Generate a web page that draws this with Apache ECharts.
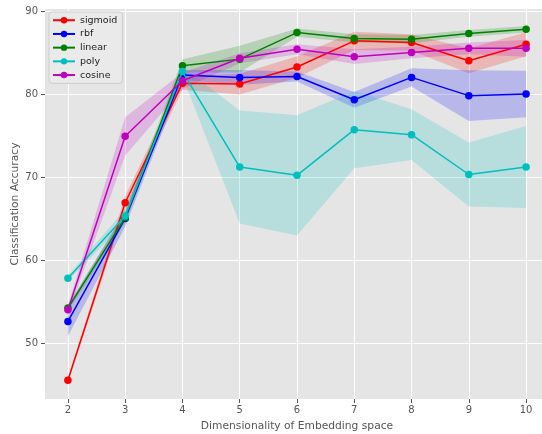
<!DOCTYPE html>
<html>
<head>
<meta charset="utf-8">
<script src="https://cdn.jsdelivr.net/npm/echarts@6/dist/echarts.min.js"></script>
<style>html,body{margin:0;padding:0;background:#fff}#c{width:542px;height:434px}</style>
</head>
<body>
<div id="c"></div>
<script>
var dims = [2, 3, 4, 5, 6, 7, 8, 9, 10];
var xTicks = [2, 3, 4, 5, 6, 7, 8, 9, 10];
var yTicks = [50, 60, 70, 80, 90];
var names = ['sigmoid', 'rbf', 'linear', 'poly', 'cosine'];
var sigmoidMean = [45.5, 66.9, 81.3, 81.2, 83.25, 86.4, 86.2, 84.0, 86.0];
var sigmoidStd  = [0.3, 0.8, 0.8, 1.25, 1.3, 1.1, 1.0, 1.5, 1.45];
var rbfMean     = [52.6, 65.0, 82.3, 82.0, 82.1, 79.3, 82.0, 79.8, 80.0];
var rbfStd      = [1.8, 1.0, 0.6, 0.9, 0.6, 0.95, 1.1, 3.05, 2.8];
var linearMean  = [54.2, 65.1, 83.4, 84.2, 87.4, 86.7, 86.6, 87.3, 87.8];
var linearStd   = [0.4, 0.6, 0.8, 1.6, 0.5, 0.5, 0.5, 0.4, 0.4];
var polyMean    = [57.8, 65.3, 82.7, 71.2, 70.2, 75.7, 75.1, 70.3, 71.2];
var polyStd     = [0.3, 0.8, 0.6, 6.8, 7.25, 4.65, 3.05, 3.85, 4.95];
var cosineMean  = [54.0, 74.9, 81.6, 84.3, 85.4, 84.5, 85.0, 85.5, 85.5];
var cosineStd   = [0.5, 2.3, 1.0, 0.6, 0.6, 0.9, 0.7, 0.7, 1.0];

var means = [sigmoidMean, rbfMean, linearMean, polyMean, cosineMean];
var stds = [sigmoidStd, rbfStd, linearStd, polyStd, cosineStd];
var colors = ['#ff0000', '#0000ff', '#008000', '#00bfbf', '#bf00bf'];
var fills = ['rgba(255,0,0,0.2)', 'rgba(0,0,255,0.2)', 'rgba(0,128,0,0.2)', 'rgba(0,191,191,0.2)', 'rgba(191,0,191,0.2)'];

var series = [];
names.forEach(function (n, k) {
  var m = means[k], s = stds[k];
  var bandData = dims.map(function (d, i) { return [d, m[i] - s[i], m[i] + s[i]]; });
  series.push({
    type: 'custom',
    name: n + ' band',
    data: bandData,
    z: 1,
    clip: true,
    silent: true,
    renderItem: function (params, api) {
      if (params.dataIndex !== 0) return;
      var pts = [];
      for (var i = 0; i < bandData.length; i++) pts.push(api.coord([bandData[i][0], bandData[i][2]]));
      for (var j = bandData.length - 1; j >= 0; j--) pts.push(api.coord([bandData[j][0], bandData[j][1]]));
      return { type: 'polygon', shape: { points: pts }, style: { fill: fills[k], stroke: null } };
    }
  });
});
names.forEach(function (n, k) {
  series.push({
    type: 'line',
    name: n,
    data: dims.map(function (d, i) { return [d, means[k][i]]; }),
    color: colors[k],
    symbol: 'circle',
    symbolSize: 7.5,
    showSymbol: true,
    lineStyle: { width: 1.5, color: colors[k] },
    itemStyle: { color: colors[k] },
    z: 3 + k,
    animation: false
  });
});

var chart = echarts.init(document.getElementById('c'));
chart.setOption({
  animation: false,
  backgroundColor: '#ffffff',
  textStyle: { fontFamily: 'DejaVu Sans' },
  grid: { left: 45, right: -7, top: 9, bottom: 35, show: true, backgroundColor: '#E5E5E5', borderWidth: 0,
          containLabel: false, outerBoundsMode: 'none' },
  legend: {
    data: names,
    orient: 'vertical',
    left: 49, top: 12,
    padding: [3, 5, 3, 3],
    itemWidth: 22, itemHeight: 8, itemGap: 3.2,
    backgroundColor: '#EAEAEA',
    borderColor: '#cccccc', borderWidth: 1, borderRadius: 3,
    textStyle: { fontSize: 9.5, lineHeight: 10.5, color: '#222', fontFamily: 'DejaVu Sans' }
  },
  xAxis: {
    type: 'value', min: 1.6, max: 10.4,
    name: 'Dimensionality of Embedding space', nameLocation: 'middle', nameGap: 21.5, nameMoveOverlap: false,
    nameTextStyle: { fontSize: 10.7, color: '#555' },
    axisLine: { show: false },
    axisTick: { show: true, length: 4, lineStyle: { color: '#555' }, customValues: xTicks },
    axisLabel: { fontSize: 10, color: '#555', margin: 6, customValues: xTicks },
    splitLine: { show: true, lineStyle: { color: '#ffffff', width: 1 } }
  },
  yAxis: {
    type: 'value', min: 43.25, max: 90.24,
    name: 'Classification Accuracy', nameLocation: 'middle', nameGap: 24, nameMoveOverlap: false,
    nameTextStyle: { fontSize: 10.7, color: '#555' },
    axisLine: { show: false },
    axisTick: { show: true, length: 4, lineStyle: { color: '#555' }, customValues: yTicks },
    axisLabel: { fontSize: 10, color: '#555', margin: 7, customValues: yTicks },
    splitLine: { show: true, lineStyle: { color: '#ffffff', width: 1 } }
  },
  series: series
});
</script>
</body>
</html>
